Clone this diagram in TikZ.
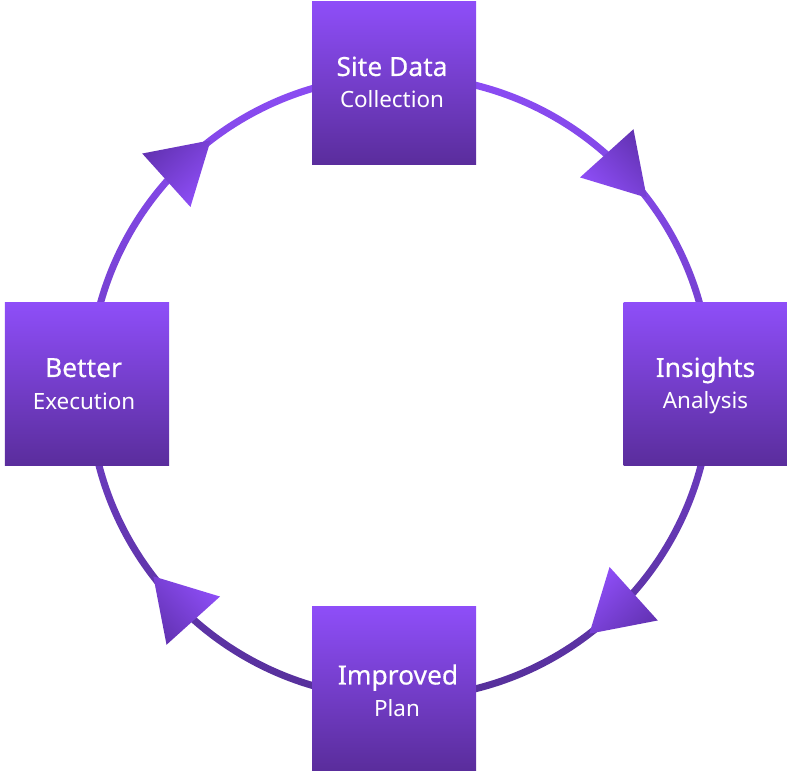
\documentclass[tikz,border=0pt]{standalone}
\usepackage{fontspec}
\setmainfont{Noto Sans}
\newfontfamily\ttlfont[FakeBold=0.4]{Noto Sans}
\usetikzlibrary{calc}
\definecolor{lite}{HTML}{8E4EF8}
\definecolor{dark}{HTML}{5A2D9C}
\definecolor{ringtop}{HTML}{8B4CF4}
\definecolor{ringbot}{HTML}{56309A}
\definecolor{tlite}{HTML}{8E4EF7}
\definecolor{tdark}{HTML}{6433B5}
\begin{document}
\begin{tikzpicture}[x=1bp,y=1bp,
  box/.style={rectangle, draw=none, minimum width=164bp, minimum height=163bp, inner sep=0pt, top color=lite, bottom color=dark},
  ttl/.style={anchor=base, text=white, inner sep=0pt, font=\ttlfont\fontsize{26.5}{30}\selectfont},
  sub/.style={anchor=base, text=white, inner sep=0pt, font=\fontsize{22.5}{26}\selectfont}]
\useasboundingbox (0,0) rectangle (787,771);
\coordinate (C) at (400,384);
% ring
\shade[top color=ringtop, bottom color=ringbot, even odd rule] (C) circle (314.5) (C) circle (307.5);
% arrow triangles
\foreach \k/\ang in {0/0,1/-90,2/-180,3/-270} {
  \coordinate (T\k) at ($(C)+(37.5+\ang:311)$);
  \coordinate (B\k) at ($(C)+(48.5+\ang:312)$);
  \pgfmathsetmacro\sa{133+\ang}
  \shade[top color=tlite, bottom color=tdark, shading angle=\sa]
    (T\k) -- ($(B\k)!36bp!90:(T\k)$) -- ($(B\k)!36bp!-90:(T\k)$) -- cycle;
}
% boxes
\node[box] (site) at (394,687.5) {};
\node[box] (ins) at (705.5,386.5) {};
\node[box] (imp) at (394,82.5) {};
\node[box] (bet) at (87,386.5) {};
% labels
\node[ttl] (siteT) at ([xshift=-2bp,yshift=7.5bp]site.center) {Site Data};
\node[sub] (siteS) at ([xshift=-2bp,yshift=-24.5bp]site.center) {Collection};
\node[ttl] (insT) at ([yshift=7.5bp]ins.center) {Insights};
\node[sub] (insS) at ([yshift=-24.5bp]ins.center) {Analysis};
\node[ttl] (impT) at ([xshift=4bp,yshift=4bp]imp.center) {Improved};
\node[sub] (impS) at ([xshift=3bp,yshift=-28bp]imp.center) {Plan};
\node[ttl] (betT) at ([xshift=-3.5bp,yshift=7.5bp]bet.center) {Better};
\node[sub] (betS) at ([xshift=-3bp,yshift=-25.5bp]bet.center) {Execution};
\end{tikzpicture}
\end{document}
